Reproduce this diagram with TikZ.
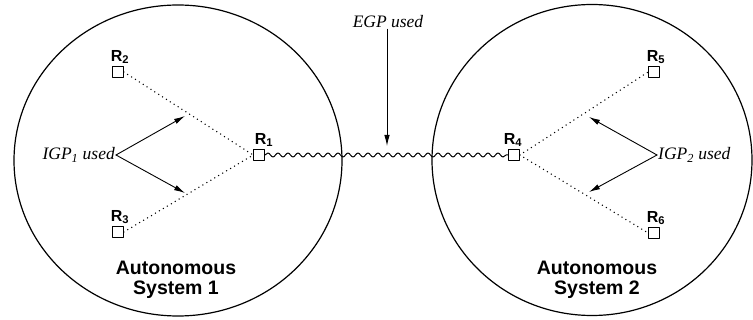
\documentclass[tikz,border=0pt]{standalone}
\usepackage{fontspec}
\setmainfont{Liberation Serif}
\setsansfont{Liberation Sans}
\usetikzlibrary{arrows.meta,positioning,decorations.pathmorphing}

\begin{document}
\begin{tikzpicture}[
    x=1pt,
    y=-1pt,
    >={Latex[length=11pt,width=5.5pt]},
    line cap=round,
    line join=round,
    router/.style={draw, line width=1.2pt, minimum size=10.5pt, inner sep=0pt},
    rname/.style={font=\sffamily\bfseries\fontsize{16}{16}\selectfont, inner sep=1pt},
    proto/.style={font=\itshape\fontsize{17.5}{17.5}\selectfont, inner sep=1pt},
    asname/.style={font=\sffamily\bfseries\fontsize{19.5}{19.5}\selectfont, align=center},
    igplink/.style={line width=1.5pt, dash pattern=on 0pt off 4.6pt},
    wave/.style={decorate, decoration={snake, segment length=10pt, amplitude=2pt}, line width=1pt}
]
\useasboundingbox (0,0) rectangle (753,320);

% AS 1
\draw[line width=1.2pt] (178,160.5) ellipse (164 and 155.5);
\node[asname] (as1) at (176,280) {Autonomous\\System 1};

% AS 2
\draw[line width=1.2pt] (592,160) ellipse (160 and 155.5);
\node[asname] (as2) at (597,280) {Autonomous\\System 2};

% Router
\node[router] (r1) at (259,155) {};
\node[router] (r2) at (118,72) {};
\node[router] (r3) at (118,232) {};
\node[router] (r4) at (514,155) {};
\node[router] (r5) at (654,72) {};
\node[router] (r6) at (654,233) {};

\node[rname, above=1pt of r1, xshift=5pt] (n1) {R\textsubscript{1}};
\node[rname, above=1pt of r2, xshift=2pt] (n2) {R\textsubscript{2}};
\node[rname, above=1pt of r3, xshift=2pt] (n3) {R\textsubscript{3}};
\node[rname, above=1pt of r4, xshift=-1pt] (n4) {R\textsubscript{4}};
\node[rname, above=1pt of r5, xshift=2pt] (n5) {R\textsubscript{5}};
\node[rname, above=1pt of r6, xshift=2pt] (n6) {R\textsubscript{6}};

% IGP links
\draw[igplink] (r2.east) -- (r1.west);
\draw[igplink] (r3.east) -- (r1.west);
\draw[igplink] (r4.east) -- (r5.west);
\draw[igplink] (r4.east) -- (r6.west);

% EGP link
\draw[wave] (r1.east) -- (r4.west);

% EGP used
\node[proto] (egp) at (388,22) {EGP used};
\coordinate (egptip) at (387,146);
\draw[->, line width=0.9pt] (egp.south -| egptip) -- (egptip);

% IGP_1 used
\node[proto, anchor=east] (igp1) at (116,155) {IGP\textsubscript{1} used};
\coordinate (i1a) at (185,116);
\coordinate (i1b) at (185,193);
\draw[->, line width=0.9pt] (igp1.east) -- (i1a);
\draw[->, line width=0.9pt] (igp1.east) -- (i1b);

% IGP_2 used
\node[proto, anchor=west] (igp2) at (657,155) {IGP\textsubscript{2} used};
\coordinate (i2a) at (589,117);
\coordinate (i2b) at (589,192);
\draw[->, line width=0.9pt] (igp2.west) -- (i2a);
\draw[->, line width=0.9pt] (igp2.west) -- (i2b);

\end{tikzpicture}
\end{document}
